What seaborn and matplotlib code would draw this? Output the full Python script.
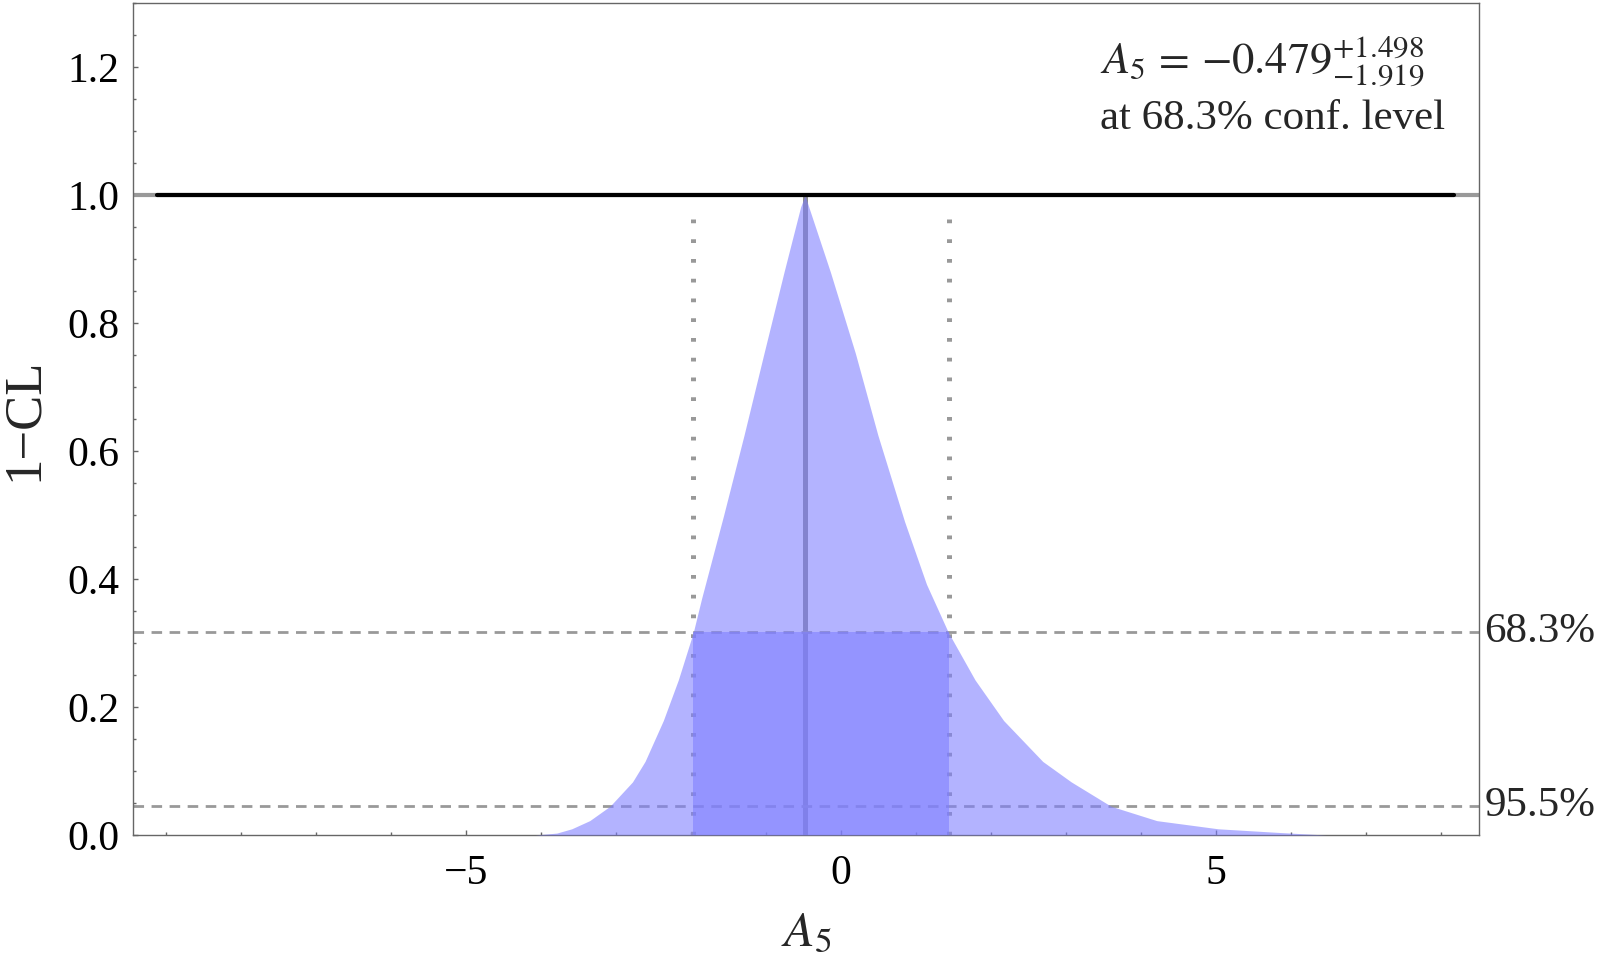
import numpy as np
import pandas as pd
import matplotlib
matplotlib.use("Agg")
import matplotlib.pyplot as plt
import seaborn as sns

# ----------------------------
# Data
# ----------------------------

best_fit = -0.479
err_up = 1.498
err_down = 1.919

# 1-CL profile, left and right branches
left_x = [-4.08, -3.79, -3.59, -3.35, -3.08, -2.78, -2.613, -2.369, -2.169, -1.969,
          -1.858, -1.569, -1.293, -1.027, -0.76, -0.538, -0.479]
left_y = [0.0, 0.003, 0.0097, 0.0225, 0.045, 0.083, 0.115, 0.179, 0.2425, 0.317,
          0.370, 0.498, 0.625, 0.753, 0.880, 0.982, 1.0]
right_x = [-0.43, -0.141, 0.192, 0.492, 0.848, 1.14, 1.43, 1.787, 2.168, 2.69,
           3.07, 3.60, 4.21, 5.03, 5.84, 6.47]
right_y = [0.982, 0.880, 0.753, 0.625, 0.490, 0.392, 0.317, 0.2425, 0.179, 0.115,
           0.083, 0.045, 0.0225, 0.0097, 0.004, 0.0]

# interval drawn in the plot (lower / upper edge)
interval = [best_fit - err_up, best_fit + err_down]

cl_levels = [0.317, 0.045]
cl_labels = ["68.3%", "95.5%"]

line_one_x = [-9.12, 8.17]
line_one_y = [1.0, 1.0]

x_ticks = [-5, 0, 5]
y_ticks = [0.0, 0.2, 0.4, 0.6, 0.8, 1.0, 1.2]

curve = pd.DataFrame({
    "x": left_x + right_x,
    "y": left_y + right_y,
})

# ----------------------------
# Style
# ----------------------------

sns.set_theme(style="ticks")
plt.rcParams["font.family"] = ["Liberation Serif", "DejaVu Serif"]
plt.rcParams["mathtext.fontset"] = "stix"
plt.rcParams["axes.unicode_minus"] = True

fill_color = "#7f7fff"
fill_alpha = 0.59
grey = "#999999"
spine_grey = "#666666"

fig = plt.figure(figsize=(16, 9.64), dpi=100)
ax = fig.add_axes([0.0831, 0.1338, 0.8413, 0.8626])

# ----------------------------
# Guide lines (under the fill)
# ----------------------------

ax.plot([best_fit, best_fit], [0, 1.0], color="#8a8a8a", lw=3.6, zorder=1,
        solid_capstyle="butt")

for xv in interval:
    ax.plot([xv, xv], [0, 0.98], color=grey, lw=3.6, zorder=1,
            dashes=(0.75, 3.2))

for lev in cl_levels:
    ax.axhline(lev, color=grey, lw=2.0, zorder=1, dashes=(3.8, 2.7))

# grey line across the full width at 1.0
ax.axhline(1.0, color=grey, lw=3.0, zorder=2)

# ----------------------------
# Profile fill
# ----------------------------

ax.fill_between(curve["x"], 0, curve["y"], color=fill_color, alpha=fill_alpha,
                lw=0, zorder=3)
ax.fill_between(interval, 0, cl_levels[0], color=fill_color, alpha=fill_alpha,
                lw=0, zorder=3)

sns.lineplot(x=line_one_x, y=line_one_y, color="black", lw=3.0, ax=ax, zorder=4)

# ----------------------------
# Axes
# ----------------------------

ax.set_xlim(-9.44, 8.507)
ax.set_ylim(0, 1.3)

ax.set_xticks(x_ticks)
ax.set_xticks(np.arange(-9, 9, 1), minor=True)
ax.set_yticks(y_ticks)
ax.set_yticks(np.arange(0, 1.3001, 0.05), minor=True)
ax.set_xticklabels(["\u22125", "0", "5"])
ax.set_yticklabels([f"{v:.1f}" for v in y_ticks])

ax.tick_params(which="both", direction="in", color=spine_grey, width=1.0,
               top=False, right=False, labelsize=30, labelcolor="black")
ax.tick_params(which="major", length=3.4)
ax.tick_params(which="minor", length=2.0)
ax.tick_params(axis="y", pad=10)
ax.tick_params(axis="x", pad=14)

for s in ax.spines.values():
    s.set_color(spine_grey)
    s.set_linewidth(1.0)

ax.set_xlabel("$A_5$", fontsize=36, labelpad=12)
ax.set_ylabel("1\u2212CL", fontsize=38, labelpad=14)

# ----------------------------
# Annotations
# ----------------------------

for lev, lab in zip(cl_levels, cl_labels):
    ax.annotate(lab, xy=(1.0, lev), xycoords=("axes fraction", "data"),
                xytext=(4, 0), textcoords="offset points",
                ha="left", va="center", fontsize=31, annotation_clip=False)

fig.text(1100 / 1600, 1 - 62 / 964,
         r"$A_5\,=\,{-}0.479^{+1.498}_{-1.919}$",
         ha="left", va="center", fontsize=32)
fig.text(1100 / 1600, 1 - 119 / 964, "at 68.3% conf. level",
         ha="left", va="center", fontsize=31)

plt.savefig("out.png", dpi=100)
